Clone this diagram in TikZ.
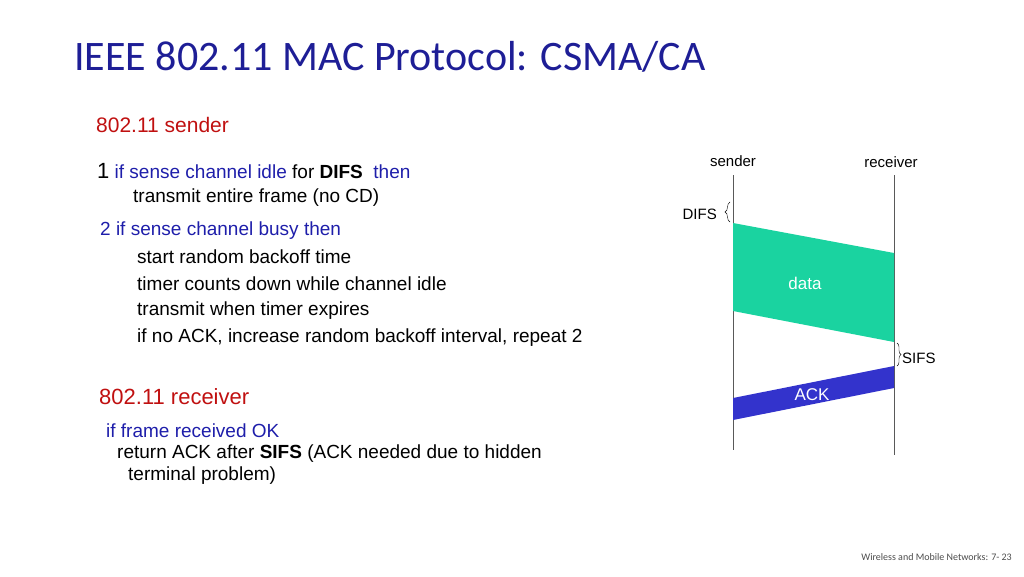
\documentclass[tikz,border=0pt]{standalone}
\usepackage{fontspec}
\setmainfont{Liberation Sans}
\newfontfamily\calib{Carlito}
\usetikzlibrary{decorations.pathreplacing}
\definecolor{ttl}{RGB}{30,30,150}
\definecolor{rd}{RGB}{192,16,16}
\definecolor{bl}{RGB}{30,30,170}
\definecolor{grn}{RGB}{26,211,160}
\definecolor{ackc}{RGB}{51,51,204}
\begin{document}
\begin{tikzpicture}[x=1pt,y=-1pt,
  txt/.style={anchor=west,inner sep=0pt,font=\fontsize{19}{22}\selectfont},
  sm/.style={inner sep=0pt,font=\fontsize{15}{18}\selectfont}]
\useasboundingbox (0,0) rectangle (1024,576);
\node[anchor=west,inner sep=0pt,text=ttl,font=\calib\fontsize{42}{48}\selectfont] (title) at (74,57) {IEEE 802.11 MAC Protocol: CSMA/CA};
\node[txt,text=rd,font=\fontsize{21}{24}\selectfont] (s) at (96,125) {802.11 sender};
\node[txt] (l1) at (97,171) {{\fontsize{22}{24}\selectfont 1} \textcolor{bl}{if sense channel idle} for \textbf{DIFS}\ \ \textcolor{bl}{then}};
\node[txt] (l2) at (133,198) {transmit entire frame (no CD)};
\node[txt,text=bl] (l3) at (100,231) {2 if sense channel busy then};
\node[txt] (l4) at (137,257) {start random backoff time};
\node[txt] (l5) at (137,284) {timer counts down while channel idle};
\node[txt] (l6) at (137,311) {transmit when timer expires};
\node[txt] (l7) at (137,338) {if no ACK, increase random backoff interval, repeat 2};
\node[txt,text=rd,font=\fontsize{22}{24}\selectfont] (r) at (99,397) {802.11 receiver};
\node[txt,text=bl] (r1) at (106,431) {if frame received OK};
\node[txt] (r2) at (117,454) {return ACK after \textbf{SIFS} (ACK needed due to hidden};
\node[txt] (r3) at (128,476) {terminal problem)};
% diagram
\coordinate (st) at (733,175); \coordinate (sb) at (733,450);
\coordinate (rt) at (894,175); \coordinate (rb) at (894,455);
\draw[gray!70!black] (st)--(sb) (rt)--(rb);
\node[sm] (sl) at (733,161) {sender};
\node[sm] (rl) at (891,162) {receiver};
\fill[grn] (733,223)--(894,253)--(894,342)--(733,311)--cycle;
\fill[ackc] (733,398)--(894,366)--(894,388)--(733,420)--cycle;
\node[sm,text=white,font=\fontsize{17}{20}\selectfont] (d) at (805,283) {data};
\node[sm,text=white,font=\fontsize{17}{20}\selectfont] (a) at (812,395) {ACK};
\draw[decorate,decoration={brace,amplitude=5pt}] (730,222)--(730,202);
\node[sm,anchor=east] (difs) at (717,214) {DIFS};
\draw[decorate,decoration={brace,amplitude=4pt}] (897,343)--(897,366);
\node[sm,anchor=west] (sifs) at (902,358) {SIFS};
\node[anchor=east,inner sep=0pt,text=gray!60!black,font=\calib\fontsize{10}{12}\selectfont] (f) at (1012,557) {Wireless and Mobile Networks: 7- 23};
\end{tikzpicture}
\end{document}
